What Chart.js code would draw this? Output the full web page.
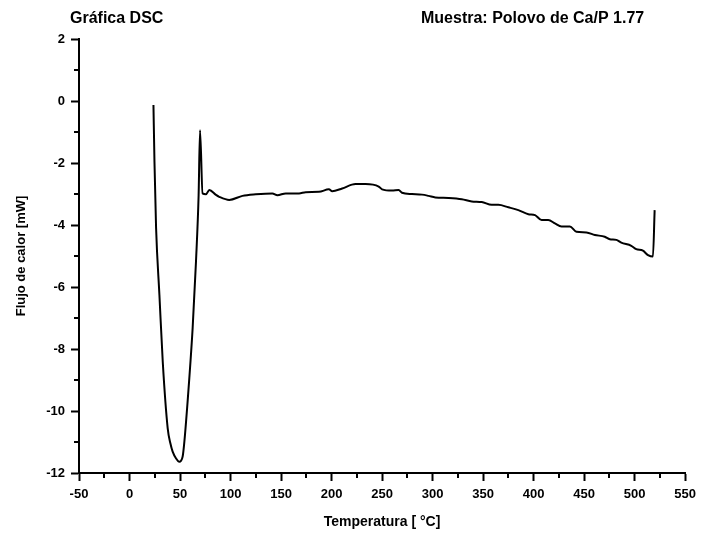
<!DOCTYPE html>
<html>
<head>
<meta charset="utf-8">
<title>Gráfica DSC</title>
<script src="https://cdn.jsdelivr.net/npm/chart.js@4"></script>
<style>
  body { margin: 0; background: #fff; }
  canvas { display: block; }
</style>
</head>
<body>
<canvas id="myChart" width="702" height="536"></canvas>
<script>
/**
 * DSC curve, Chart.js
 * Values.
 */

let temperatures = [
  23.7, 24.7, 26.3, 29.6, 32.9, 37.8, 40.5, 42.7, 46.1, 49.3, 52.6,
  54.3, 59.2, 62.5, 65.8, 68.4, 69.8, 72.3, 75.7, 79, 85.6,
  88.8, 98.7, 111.8, 125, 141.4, 146.4, 154.6, 167.8, 174.4, 187.5,
  197.4, 200.6, 210.5, 223.7, 233.6, 246.7, 250, 259.9, 266.4, 269.7,
  279.6, 289.5, 296, 302.7, 315.8, 328.9, 338.8, 348.7, 358.5, 365.1,
  375, 384.9, 394.8, 401.4, 407.9, 414.5, 421.1, 427.6, 435.9, 442.4,
  452.3, 460.6, 470.4, 475.4, 481.9, 486.8, 496.7, 501.6, 508.2, 513.2,
  518.1, 519.8,
];

let heatFlow = [
  -0.13, -1.96, -4.1, -6.26, -8.41, -10.56, -11.05, -11.31, -11.53, -11.64, -11.47,
  -10.99, -8.94, -7.32, -5.18, -3.03, -0.94, -2.98, -3.01, -2.87, -3.03,
  -3.09, -3.19, -3.06, -3.01, -2.98, -3.04, -2.98, -2.98, -2.94, -2.93,
  -2.85, -2.91, -2.82, -2.68, -2.68, -2.76, -2.85, -2.89, -2.87, -2.96,
  -3.0, -3.02, -3.06, -3.11, -3.13, -3.17, -3.24, -3.26, -3.35, -3.35,
  -3.43, -3.52, -3.65, -3.68, -3.84, -3.84, -3.95, -4.05, -4.05, -4.22,
  -4.24, -4.32, -4.38, -4.46, -4.48, -4.57, -4.67, -4.78, -4.83, -4.97,
  -5.02, -3.52,
];

let xTickRange = [-50, 550, 50];
let yTickRange = [-12, 2, 2];

const FONT = "'Liberation Sans', Arial, Helvetica, sans-serif";

function chart() {
  const ctx = document.getElementById("myChart");
  new Chart(ctx, {
    type: "scatter",
    data: returnCurveData(),
    options: returnOptions(),
    plugins: [minorTicks, headerTexts],
  });
}

function returnCurveData() {
  let points = [];
  for (let i = 0; i < temperatures.length; i++) {
    points.push({ x: temperatures[i], y: heatFlow[i] });
  }
  return {
    datasets: [
      {
        data: points,
        showLine: true,
        borderColor: "#000",
        borderWidth: 2,
        borderJoinStyle: "round",
        pointRadius: 0,
        cubicInterpolationMode: "monotone",
      },
    ],
  };
}

function returnOptions() {
  return {
    responsive: false,
    animation: false,
    layout: { padding: { top: 39, right: 15, left: 0, bottom: 0 } },
    scales: returnScalesSettings(),
    plugins: {
      legend: { display: false },
      tooltip: { enabled: false },
    },
  };
}

function axisSettings(range, titleText, titleSize, titlePadding, fitSize) {
  return {
    type: "linear",
    min: range[0],
    max: range[1],
    border: { display: true, color: "#000", width: 2 },
    grid: {
      drawOnChartArea: false,
      drawTicks: true,
      tickLength: 8,
      tickWidth: 2,
      tickColor: "#000",
    },
    ticks: {
      stepSize: range[2],
      color: "#000",
      padding: 6,
      font: { family: FONT, size: 13, weight: "bold" },
    },
    title: {
      display: true,
      text: titleText,
      color: "#000",
      padding: titlePadding,
      font: { family: FONT, size: titleSize, weight: "bold" },
    },
    afterFit: fitSize,
  };
}

function returnScalesSettings() {
  return {
    x: axisSettings(xTickRange, "Temperatura [ °C]", 14, { top: 4, bottom: 5 }, function (scale) {
      scale.height = 63;
    }),
    y: axisSettings(yTickRange, "Flujo de calor [mW]", 13, { top: 14, bottom: 4 }, function (scale) {
      scale.width = 79;
    }),
  };
}

// minor tick marks halfway between the labelled ones
const minorTicks = {
  id: "minorTicks",
  afterDraw(c) {
    const g = c.ctx;
    const xs = c.scales.x;
    const ys = c.scales.y;
    g.save();
    g.strokeStyle = "#000";
    g.lineWidth = 2;
    g.beginPath();
    for (let v = xTickRange[0] + xTickRange[2] / 2; v < xTickRange[1]; v += xTickRange[2]) {
      const px = Math.round(xs.getPixelForValue(v));
      g.moveTo(px, xs.top);
      g.lineTo(px, xs.top + 5);
    }
    for (let v = yTickRange[0] + yTickRange[2] / 2; v < yTickRange[1]; v += yTickRange[2]) {
      const py = Math.round(ys.getPixelForValue(v));
      g.moveTo(ys.right, py);
      g.lineTo(ys.right - 5, py);
    }
    g.stroke();
    g.restore();
  },
};

const headerTexts = {
  id: "headerTexts",
  afterDraw(c) {
    const g = c.ctx;
    g.save();
    g.fillStyle = "#000";
    g.font = "bold 16px " + FONT;
    g.textBaseline = "alphabetic";
    g.textAlign = "left";
    g.fillText("Gráfica DSC", 70, 23);
    g.fillText("Muestra: Polovo de Ca/P 1.77", 421, 23);
    g.restore();
  },
};

chart();
</script>
</body>
</html>
